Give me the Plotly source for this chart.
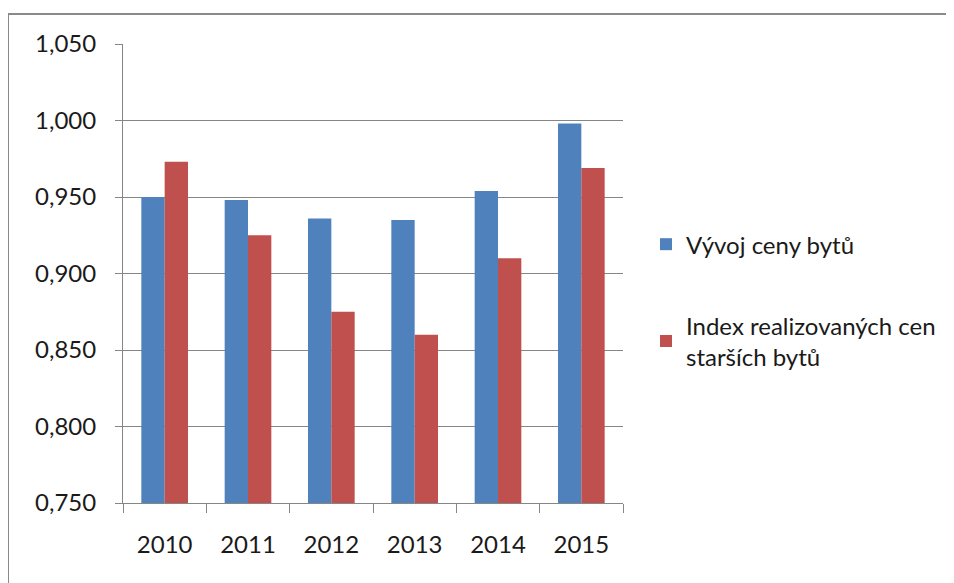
import plotly.graph_objects as go

years = ["2010", "2011", "2012", "2013", "2014", "2015"]
vyvoj_ceny = [0.950, 0.948, 0.936, 0.935, 0.954, 0.998]
index_starsich = [0.973, 0.925, 0.875, 0.860, 0.910, 0.969]
series_names = ["Vývoj ceny bytů", "Index realizovaných cen<br>starších bytů"]
y_ticks = [0.750, 0.800, 0.850, 0.900, 0.950, 1.000, 1.050]

FONT = "Lato"
GRID = "#868686"
TXT = "#1a1a1a"
FS = 24

# page body adds an 8px offset; plot area targeted at x 123-623, y 44-503
ML, MT, PW, PH = 115, 36, 500, 459
W, H = 946, 575

fig = go.Figure()
fig.add_trace(go.Bar(x=years, y=vyvoj_ceny, name=series_names[0],
                     marker=dict(color="#4F81BD", line=dict(width=0)),
                     legendgroup="a"))
fig.add_trace(go.Bar(x=years, y=index_starsich, name=series_names[1],
                     marker=dict(color="#C0504D", line=dict(width=0)),
                     legendgroup="b"))

fig.update_layout(
    width=W, height=H,
    margin=dict(l=ML, r=W - ML - PW, t=MT, b=H - MT - PH),
    paper_bgcolor="white", plot_bgcolor="white",
    barmode="group", bargap=0.44, bargroupgap=0,
    separators=", ",
    font=dict(family=FONT, size=FS, color=TXT),
    showlegend=True,
    legend=dict(x=1.046, xanchor="left", y=0.612, yanchor="top",
                font=dict(family=FONT, size=FS, color=TXT),
                tracegroupgap=47, bgcolor="rgba(0,0,0,0)"),
    xaxis=dict(showline=True, linecolor=GRID, linewidth=1,
               ticks="outside", ticklen=9, tickcolor=GRID,
               tickson="boundaries", showgrid=False,
               ticklabelstandoff=20,
               tickfont=dict(family=FONT, size=FS, color=TXT)),
    yaxis=dict(range=[0.750, 1.050], tickvals=y_ticks, tickformat=".3f",
               showline=True, linecolor=GRID, linewidth=1,
               ticks="outside", ticklen=7, tickcolor=GRID,
               showgrid=True, gridcolor=GRID, gridwidth=1,
               zeroline=False, ticklabelstandoff=14,
               tickfont=dict(family=FONT, size=FS, color=TXT)),
)

# outer chart frame (left edge x=8, top edge y=14 on the page)
fig.add_shape(type="rect", xref="paper", yref="paper",
              x0=(0 - ML) / PW, x1=(W + 40 - ML) / PW,
              y0=(MT + PH - H - 40) / PH, y1=(MT + PH - 6) / PH,
              line=dict(color="#8a8a8a", width=2), layer="below")

fig.write_html("out.html")
